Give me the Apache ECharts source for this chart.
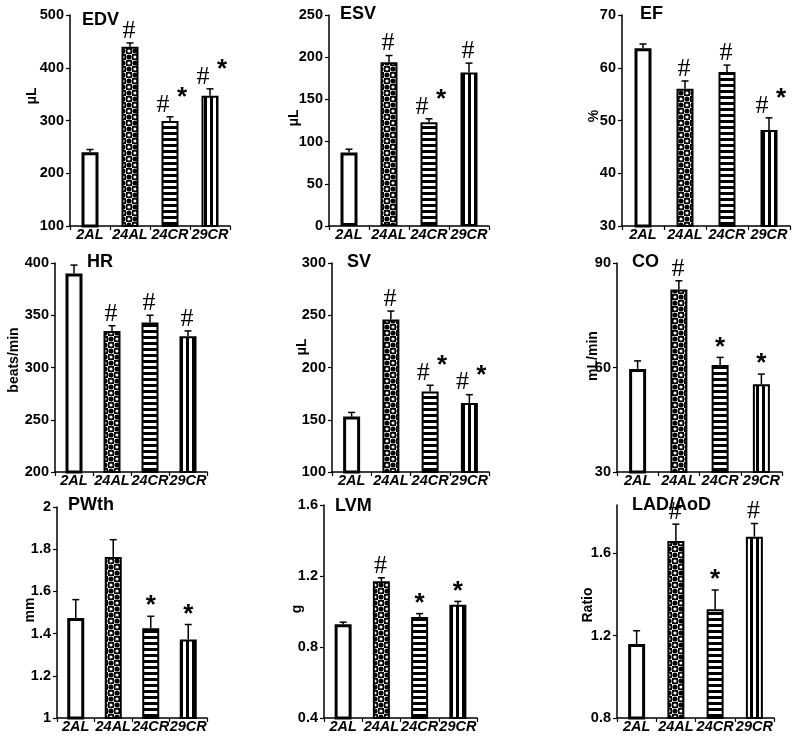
<!DOCTYPE html>
<html><head><meta charset="utf-8">
<script src="https://cdn.jsdelivr.net/npm/echarts@6/dist/echarts.min.js"></script>
<style>html,body{margin:0;padding:0;background:#fff}#c{width:800px;height:742px}</style>
</head><body><div id="c"></div>
<script>
// ---- data ----
const categories = ['2AL', '24AL', '24CR', '29CR'];

const edvMean = [240, 440, 299, 347];
const edvSem  = [5, 7, 8, 13];
const edvMarks = ['', '#', '#*', '#*'];

const esvMean = [87, 194, 123, 182];
const esvSem  = [4, 8, 4, 11];
const esvMarks = ['', '#', '#*', '#'];

const efMean = [63.7, 56.0, 59.2, 48.2];
const efSem  = [0.8, 1.5, 1.3, 2.3];
const efMarks = ['', '#', '#', '#*'];

const hrMean = [390, 335, 343, 330];
const hrSem  = [8, 5, 7, 5];
const hrMarks = ['', '#', '#', '#'];

const svMean = [153, 246, 177, 166];
const svSem  = [4, 8, 6, 8];
const svMarks = ['', '#', '#*', '#*'];

const coMean = [59.6, 82.4, 60.7, 55.2];
const coSem  = [2.3, 2.5, 2.2, 2.9];
const coMarks = ['', '#', '*', '*'];

const pwMean = [1.474, 1.763, 1.425, 1.372];
const pwSem  = [0.087, 0.082, 0.057, 0.071];
const pwMarks = ['', '', '*', '*'];

const lvmMean = [0.928, 1.17, 0.969, 1.038];
const lvmSem  = [0.012, 0.02, 0.019, 0.019];
const lvmMarks = ['', '#', '*', '*'];

const ladMean = [1.159, 1.66, 1.328, 1.681];
const ladSem  = [0.065, 0.082, 0.094, 0.064];
const ladMarks = ['', '#', '*', '#'];

// ---- patterns ----
function mk(w, h, draw) { const c = document.createElement('canvas'); c.width = w; c.height = h; const g = c.getContext('2d'); draw(g); return c; }
const dotPat = mk(12, 12, g => {
  g.fillStyle = '#fff'; g.fillRect(0, 0, 12, 12);
  g.fillStyle = '#000';
  g.fillRect(6, 0, 6, 6); g.fillRect(0, 6, 6, 6);
  [[3, 3], [9, 9]].forEach(([x, y]) => { g.beginPath(); g.arc(x, y, 2.6, 0, Math.PI * 2); g.fill(); });
  g.fillStyle = '#fff';
  [[9, 3], [3, 9]].forEach(([x, y]) => { g.beginPath(); g.arc(x, y, 1.6, 0, Math.PI * 2); g.fill(); });
});
const hPat = mk(6, 6, g => { g.fillStyle = '#fff'; g.fillRect(0, 0, 6, 6); g.fillStyle = '#000'; g.fillRect(0, 0, 6, 3); });
const vPat = mk(6, 6, g => { g.fillStyle = '#fff'; g.fillRect(0, 0, 6, 6); g.fillStyle = '#000'; g.fillRect(0, 0, 3, 6); });

const barStyles = [
  { color: '#fff', borderColor: '#000', borderWidth: 3 },
  { color: { image: dotPat, repeat: 'repeat' }, borderColor: '#000', borderWidth: 2 },
  { color: { image: hPat, repeat: 'repeat' }, borderColor: '#000', borderWidth: 2 },
  { color: { image: vPat, repeat: 'repeat' }, borderColor: '#000', borderWidth: 2 }
];

// ---- panels ----
const panels = [
  { title: 'EDV', yname: 'μL', mean: edvMean, sem: edvSem, marks: edvMarks, min: 100, max: 500, interval: 100,
    grid: { left: 70, top: 15, width: 160, height: 211 }, tpos: [82, 20], npos: [32, 96] },
  { title: 'ESV', yname: 'μL', mean: esvMean, sem: esvSem, marks: esvMarks, min: 0, max: 250, interval: 50,
    grid: { left: 329, top: 15, width: 160, height: 211 }, tpos: [340, 14], npos: [294, 118] },
  { title: 'EF', yname: '%', mean: efMean, sem: efSem, marks: efMarks, min: 30, max: 70, interval: 10,
    grid: { left: 622, top: 15, width: 168, height: 211 }, tpos: [640, 14], npos: [594, 116] },
  { title: 'HR', yname: 'beats/min', mean: hrMean, sem: hrSem, marks: hrMarks, min: 200, max: 400, interval: 50,
    grid: { left: 55, top: 263, width: 152, height: 209 }, tpos: [87, 262], npos: [14, 360] },
  { title: 'SV', yname: 'μL', mean: svMean, sem: svSem, marks: svMarks, min: 100, max: 300, interval: 50,
    grid: { left: 332, top: 263, width: 157, height: 209 }, tpos: [347, 262], npos: [302, 347] },
  { title: 'CO', yname: 'mL/min', mean: coMean, sem: coSem, marks: coMarks, min: 30, max: 90, interval: 30,
    grid: { left: 617, top: 263, width: 165, height: 209 }, tpos: [632, 262], npos: [593, 356] },
  { title: 'PWth', yname: 'mm', mean: pwMean, sem: pwSem, marks: pwMarks, min: 1, max: 2, interval: 0.2,
    grid: { left: 57, top: 507, width: 150, height: 211 }, tpos: [68, 505], npos: [30, 610] },
  { title: 'LVM', yname: 'g', mean: lvmMean, sem: lvmSem, marks: lvmMarks, min: 0.4, max: 1.6, interval: 0.4,
    grid: { left: 324, top: 505, width: 153, height: 213 }, tpos: [335, 506], npos: [297, 609] },
  { title: 'LAD/AoD', yname: 'Ratio', mean: ladMean, sem: ladSem, marks: ladMarks, min: 0.8, max: 1.835, interval: 0.4,
    grid: { left: 617, top: 505, width: 157, height: 213 }, tpos: [632, 505], npos: [588, 605] }
];

const FONT = '"Liberation Sans", Arial, sans-serif';
const grids = [], xAxes = [], yAxes = [], series = [], graphics = [];

function isWhole(p) { const n = (p.max - p.min) / p.interval; return Math.abs(n - Math.round(n)) < 1e-6; }

panels.forEach((p, k) => {
  grids.push(Object.assign({ containLabel: false }, p.grid));
  xAxes.push({
    type: 'category', gridIndex: k, data: categories,
    axisLine: { lineStyle: { color: '#000', width: 1.5 } },
    axisTick: { show: true, length: 4, lineStyle: { color: '#000', width: 1.2 } },
    axisLabel: { color: '#000', fontSize: 14.5, fontWeight: 'bold', fontStyle: 'italic', fontFamily: FONT, margin: 1, interval: 0 },
    splitLine: { show: false }
  });
  yAxes.push({
    type: 'value', gridIndex: k, min: p.min, max: p.max, interval: p.interval,
    axisLine: { show: true, lineStyle: { color: '#000', width: 1.5 } },
    axisTick: { show: true, length: 4, lineStyle: { color: '#000', width: 1.2 } },
    axisLabel: { color: '#000', fontSize: 14.5, fontWeight: 'bold', fontFamily: FONT, margin: 6, showMaxLabel: isWhole(p) },
    splitLine: { show: false }
  });
  series.push({
    type: 'bar', xAxisIndex: k, yAxisIndex: k, barWidth: 17, silent: true,
    data: p.mean.map((v, i) => ({ value: v, itemStyle: barStyles[i] }))
  });
  const marks = p.marks;
  series.push({
    type: 'custom', xAxisIndex: k, yAxisIndex: k, silent: true, z: 5,
    data: p.mean.map((v, i) => [i, v, v + p.sem[i]]),
    renderItem: function (params, api) {
      const i = api.value(0);
      const base = api.coord([i, api.value(1)]);
      const top = api.coord([i, api.value(2)]);
      const ch = [
        { type: 'line', shape: { x1: base[0], y1: base[1], x2: top[0], y2: top[1] }, style: { stroke: '#000', lineWidth: 1.5 } },
        { type: 'line', shape: { x1: top[0] - 3.5, y1: top[1], x2: top[0] + 3.5, y2: top[1] }, style: { stroke: '#000', lineWidth: 1.5 } }
      ];
      const m = marks[params.dataIndex];
      const both = m.indexOf('#') >= 0 && m.indexOf('*') >= 0;
      if (m.indexOf('#') >= 0) {
        ch.push({ type: 'text', x: top[0] + (both ? -7 : -1), y: top[1] - 12,
          style: { text: '#', font: 'normal 26px "Liberation Serif", serif', fill: '#000', textAlign: 'center', textVerticalAlign: 'middle' } });
      }
      if (m.indexOf('*') >= 0) {
        ch.push({ type: 'text', x: top[0] + (both ? 12 : 0), y: top[1] - (both ? 19 : 10),
          style: { text: '*', font: 'bold 26px ' + FONT, fill: '#000', textAlign: 'center', textVerticalAlign: 'middle' } });
      }
      return { type: 'group', children: ch };
    }
  });
  graphics.push({ type: 'text', x: p.tpos[0], y: p.tpos[1], silent: true,
    style: { text: p.title, font: 'bold 18px ' + FONT, fill: '#000', textAlign: 'left', textVerticalAlign: 'middle' } });
  graphics.push({ type: 'text', x: p.npos[0], y: p.npos[1], rotation: Math.PI / 2, silent: true,
    style: { text: p.yname, font: 'bold 14px ' + FONT, fill: '#000', textAlign: 'center', textVerticalAlign: 'middle' } });
});

const chart = echarts.init(document.getElementById('c'), null, { renderer: 'canvas' });
chart.setOption({
  animation: false, backgroundColor: '#fff',
  grid: grids, xAxis: xAxes, yAxis: yAxes, series: series, graphic: graphics
});
</script></body></html>
